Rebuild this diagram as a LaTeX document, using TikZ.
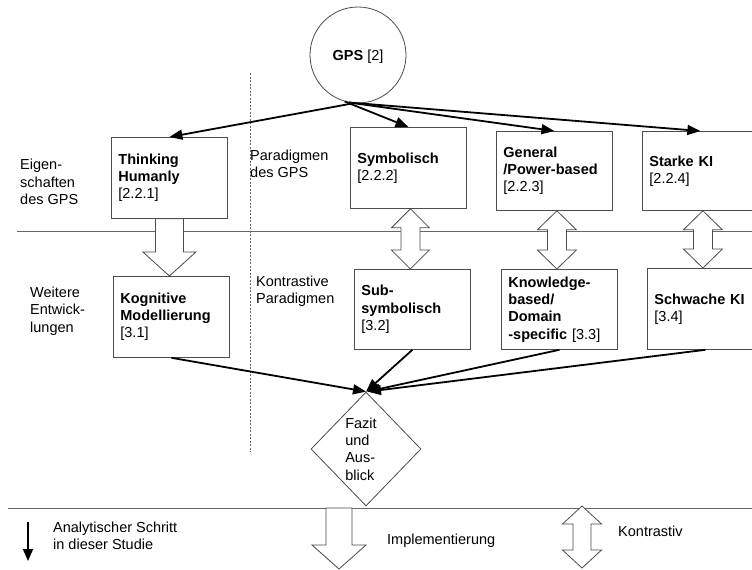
\documentclass[tikz,border=0pt]{standalone}
\usepackage{fontspec}
\setmainfont{Liberation Sans}
\usetikzlibrary{arrows.meta,shapes.geometric,calc}
\exhyphenpenalty=10000
\hyphenpenalty=10000
\newcommand\hollowdouble[5]{% top, bottom, shaft half, head half, head length
  \draw[blockarrow] let \p1=(#1), \p2=(#2), \p3=($(#1)!.5!(#2)$) in
    (\x3,\y1) -- (\x3+#4,\y1-#5) -- (\x3+#3,\y1-#5) -- (\x3+#3,\y2+#5) -- (\x3+#4,\y2+#5)
    -- (\x3,\y2) -- (\x3-#4,\y2+#5) -- (\x3-#3,\y2+#5) -- (\x3-#3,\y1-#5) -- (\x3-#4,\y1-#5) -- cycle;}
\newcommand\hollowsingle[5]{% top, tip, shaft half, head half, head length
  \draw[blockarrow] let \p1=(#1), \p2=(#2) in
    (\x1-#3,\y1) -- (\x1+#3,\y1) -- (\x1+#3,\y2+#5) -- (\x1+#4,\y2+#5) -- (\x1,\y2)
    -- (\x1-#4,\y2+#5) -- (\x1-#3,\y2+#5) -- cycle;}
\begin{document}
\begin{tikzpicture}[x=1pt,y=-1pt,
  every node/.style={font=\fontsize{14.5}{17.3}\selectfont},
  box/.style={draw=black!70, line width=0.8pt, anchor=north west, text width=102pt,
              inner xsep=7pt, inner ysep=0pt, align=left, minimum height=#1},
  box/.default=81pt,
  lbl/.style={anchor=west, align=left, inner sep=0pt},
  conn/.style={line width=1.8pt, -{Triangle[length=13pt,width=10pt]}},
  blockarrow/.style={draw=black!70, line width=0.8pt, fill=white, line join=miter},
  rule/.style={draw=black!60, line width=0.8pt}]
\clip (0,0) rectangle (752,570);
\fill[white] (0,0) rectangle (752,570);

% rules and divider
\coordinate (r1a) at (17,231); \coordinate (r1b) at (752,231);
\coordinate (r2a) at (8,508); \coordinate (r2b) at (752,508);
\coordinate (d1) at (250,73); \coordinate (d2) at (250,452);
\draw[rule] (r1a) -- (r1b);
\draw[rule] (r2a) -- (r2b);
\draw[black!60, line width=0.7pt, dash pattern=on 2pt off 1.5pt] (d1) -- (d2);

% GPS
\node[circle, draw=black!70, line width=0.8pt, minimum size=96pt, inner sep=0pt] (gps) at (358,55) {};
\node[inner sep=0pt] (gpstext) at (358,57) {\textbf{GPS} [2]};

% upper row
\node[box] (think) at (111,137) {\textbf{Thinking}\\\textbf{Humanly}\\{[}2.2.1{]}};
\node[box] (sym) at (350,127) {\textbf{Symbolisch}\\{[}2.2.2{]}};
\node[box=79pt] (gen) at (496,131) {\textbf{General}\\\textbf{/Power-based}\\{[}2.2.3{]}};
\node[box=79pt] (strong) at (642,131) {\textbf{Starke KI}\\{[}2.2.4{]}};

% lower row
\node[box] (kog) at (113,276) {\textbf{Kognitive}\\\textbf{Modellierung}\\{[}3.1{]}};
\node[box=80pt] (sub) at (354,269) {\textbf{Sub-}\\\textbf{symbolisch}\\{[}3.2{]}};
\node[box=80pt] (know) at (501,269) {\textbf{Knowledge-}\\\textbf{based/}\\\textbf{Domain}\\\textbf{-specific} {[}3.3{]}};
\node[box] (weak) at (647,268) {\textbf{Schwache KI}\\{[}3.4{]}};

% Fazit
\node[diamond, draw=black!70, line width=0.8pt, minimum width=110pt, minimum height=114pt, inner sep=0pt] (fazit) at (366,449) {};
\node[align=left, inner sep=0pt] (fazittext) at (361,449) {Fazit\\und\\Aus-\\blick};

% side labels
\node[lbl] (eig) at (20,182) {Eigen-\\schaften\\des GPS};
\node[lbl] (weit) at (30,311) {Weitere\\Entwick-\\lungen};
\node[lbl] (parg) at (250,164) {Paradigmen\\des GPS};
\node[lbl] (kpar) at (256,291) {Kontrastive\\Paradigmen};

% GPS arrows
\draw[conn] (gps.-95) -- (think.north);
\draw[conn] (gps.-106) -- (sym.north);
\draw[conn] (gps.-101) -- (gen.north);
\draw[conn] (gps.-101) -- (strong.north);

% arrows into Fazit
\draw[conn] (kog.south) -- (fazit.north);
\draw[conn] (sub.south) -- (fazit.north);
\draw[conn] (know.south) -- ([xshift=1pt]fazit.north);
\draw[conn] (weak.south) -- ([xshift=2pt]fazit.north);

% block arrows between rows
\hollowsingle{think.south}{kog.north}{14pt}{26.5pt}{24pt}
\hollowdouble{sym.south}{sub.north}{9.5pt}{19pt}{19pt}
\hollowdouble{gen.south}{know.north}{9.5pt}{19.5pt}{19pt}
\hollowdouble{strong.south}{weak.north}{9.5pt}{19.5pt}{19pt}

% legend
\coordinate (lg1) at (28,522); \coordinate (lg2) at (28,561);
\draw[line width=1.8pt, -{Triangle[length=12pt,width=10pt]}] (lg1) -- (lg2);
\node[lbl] (anal) at (53,536) {Analytischer Schritt\\in dieser Studie};
\coordinate (im1) at (339,508); \coordinate (im2) at (339,569);
\hollowsingle{im1}{im2}{13pt}{27pt}{24pt}
\node[lbl] (impl) at (387,541) {Implementierung};
\coordinate (ko1) at (582,506); \coordinate (ko2) at (582,568);
\hollowdouble{ko1}{ko2}{9pt}{19.5pt}{18pt}
\node[lbl] (kontr) at (618,531) {Kontrastiv};
\end{tikzpicture}
\end{document}
